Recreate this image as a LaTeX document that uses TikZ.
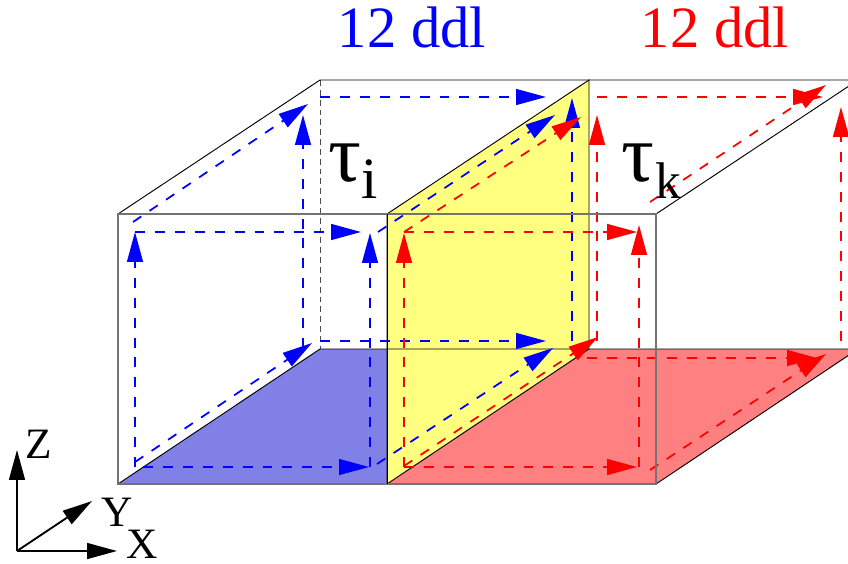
\documentclass[tikz,border=0pt]{standalone}
\usepackage{fontspec}
\setmainfont{Liberation Serif}
\usetikzlibrary{arrows.meta}
\definecolor{floorblue}{RGB}{128,128,230}
\definecolor{floorred}{RGB}{255,128,128}
\definecolor{faceyellow}{RGB}{255,255,128}
\tikzset{
  edgeline/.style={black, line width=0.8pt},
  frontline/.style={black!55, line width=1.1pt},
  bluedash/.style={blue, line width=1.5pt, dash pattern=on 8.5pt off 8.5pt, -{Triangle[length=25.5pt,width=13.5pt]}},
  reddash/.style={red, line width=1.5pt, dash pattern=on 8.5pt off 8.5pt, -{Triangle[length=25.5pt,width=13.5pt]}},
  axisline/.style={black, line width=1.6pt, -{Triangle[length=25.5pt,width=13.5pt]}},
  axislabel/.style={font=\fontsize{37}{37}\selectfont, anchor=base, inner sep=0pt}
}
\begin{document}
\begin{tikzpicture}[x=0.03cm,y=-0.03cm]
\clip (0,0) rectangle (848,563);

% Coloured faces
\fill[floorblue] (118,484) -- (387,484) -- (589,349) -- (320,349) -- cycle;
\fill[floorred] (387,484) -- (656,484) -- (858,349) -- (589,349) -- cycle;
\fill[faceyellow] (387,214) -- (589,80) -- (589,349) -- (387,484) -- cycle;

% Back edges
\draw[black!70, line width=0.8pt, dash pattern=on 5pt off 3.4pt] (320,80) -- (320,349);
\draw[edgeline] (118,214) -- (320,80) -- (858,80) -- (656,214);
\draw[edgeline] (118,484) -- (320,349) -- (858,349) -- (656,484);
\draw[edgeline] (387,214) -- (589,80) -- (589,349) -- (387,484) -- cycle;

% Blue dofs
\draw[bluedash] (135,467) -- (135,232);
\draw[bluedash] (135,232) -- (361,232);
\draw[bluedash] (133,222) -- (308,104);
\draw[bluedash] (303,348) -- (303,115);
\draw[bluedash] (320,97) -- (546,97);
\draw[bluedash] (370,467) -- (370,233);
\draw[bluedash] (143,467) -- (369,467);
\draw[bluedash] (135,462) -- (312,343);
\draw[bluedash] (320,341) -- (546,341);
\draw[bluedash] (378,232) -- (555,115);
\draw[bluedash] (377,464) -- (553,348);
\draw[bluedash] (572,341) -- (572,98);

% Red dofs
\draw[reddash] (404,467) -- (404,233);
\draw[reddash] (404,232) -- (637,232);
\draw[reddash] (404,232) -- (581,117);
\draw[reddash] (597,341) -- (597,115);
\draw[reddash] (597,97) -- (823,97);
\draw[reddash] (650,202) -- (826,85);
\draw[reddash] (639,467) -- (639,225);
\draw[reddash] (841,341) -- (841,107);
\draw[reddash] (404,467) -- (637,467);
\draw[reddash] (587,358) -- (817,358);
\draw[reddash] (650,470) -- (826,354);
\draw[reddash] (404,466) -- (598,337);

% Front box
\draw[frontline] (118,214) rectangle (656,484);
\draw[edgeline] (387,214) -- (387,484);

% Labels
\node[blue, font=\fontsize{50}{50}\selectfont] (ddlblue) at (412,27) {12 ddl};
\node[red, font=\fontsize{50}{50}\selectfont] (ddlred) at (715,27) {12 ddl};
\node[font=\fontsize{70}{70}\selectfont, anchor=base, inner sep=0pt] (taui) at (345,181) {τ};
\node[font=\fontsize{50}{50}\selectfont, anchor=base, inner sep=0pt] (subi) at (370,198) {i};
\node[font=\fontsize{70}{70}\selectfont, anchor=base, inner sep=0pt] (tauk) at (638,181) {τ};
\node[font=\fontsize{44}{44}\selectfont, anchor=base, inner sep=0pt] (subk) at (668,198) {k};

% Axes
\coordinate (origin) at (17,551);
\coordinate (zend) at (17,450);
\coordinate (yend) at (92,501);
\coordinate (xend) at (117,551);
\draw[axisline] (origin) -- (zend);
\draw[axisline] (origin) -- (yend);
\draw[axisline] (origin) -- (xend);
\node[axislabel] (zlabel) at (39,458) {Z};
\node[axislabel] (ylabel) at (117,526) {Y};
\node[axislabel] (xlabel) at (142,558) {X};
\end{tikzpicture}
\end{document}
